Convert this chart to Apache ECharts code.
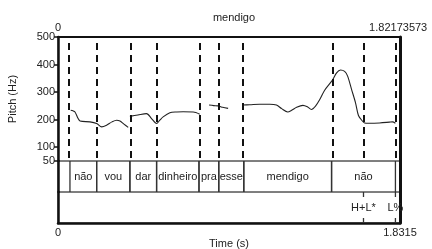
<!DOCTYPE html>
<html>
<head>
<meta charset="utf-8">
<script src="https://cdn.jsdelivr.net/npm/echarts@6/dist/echarts.min.js"></script>
<style>
  html, body { margin: 0; padding: 0; background: #fff; }
  #chart { width: 432px; height: 249px; }
</style>
</head>
<body>
<div id="chart"></div>
<script>
// pitch contour (s, Hz), null = unvoiced gap
var pitchTimes = [0.068, 0.080, 0.091, 0.107, 0.118, 0.171, 0.207, 0.234, 0.260, 0.289, 0.314, 0.332, 0.353, 0.376, 0.380,
  0.385, 0.428, 0.474, 0.501, 0.528, 0.545, 0.563, 0.599, 0.636, 0.670, 0.724, 0.738, 0.759, 0.780,
  0.809, 0.834, 0.857, 0.882, 0.911, 0.950,
  0.988, 1.027, 1.080, 1.134, 1.170, 1.198, 1.230, 1.251, 1.278, 1.312, 1.337, 1.357, 1.380, 1.401, 1.428, 1.469,
  1.492, 1.513, 1.535, 1.551, 1.572, 1.593, 1.609, 1.629, 1.642, 1.663, 1.722, 1.775, 1.791, 1.807];
var pitchValues = [234, 232, 228, 205, 195, 192, 186, 174, 180, 192, 198, 195, 184, 172, null,
  212, 217, 222, 204, 186, 198, 210, 225, 228, 229, 228, 226, 220, null,
  253, 251, 250, 245, 241, null,
  253, 254, 256, 256, 253, 240, 228, 234, 245, 252, 246, 237, 250, 272, 307, 343,
  370, 380, 375, 358, 310, 262, 215, 196, 188, 187, 188, 191, 192, 187];

// word tier
var words = ['não', 'vou', 'dar', 'dinheiro', 'pra', 'esse', 'mendigo', 'não'];
var wordStarts = [0.064, 0.207, 0.385, 0.528, 0.755, 0.861, 0.995, 1.465];
var wordEnds = [0.207, 0.385, 0.528, 0.755, 0.861, 0.995, 1.465, 1.807];

// tone tier
var tones = ['H+L*', 'L%'];
var toneTimes = [1.636, 1.807];

var pitchTicks = [50, 100, 200, 300, 400, 500];
var totalDur = 1.8315;
var pitchDur = 1.82173573;

var font = '"Liberation Sans", Arial, sans-serif';
var ink = '#222';

var myChart = echarts.init(document.getElementById('chart'));

var dashTimes = wordStarts.concat([wordEnds[wordEnds.length - 1]], [toneTimes[0]]);

var option = {
  animation: false,
  textStyle: { fontFamily: font },
  title: {
    text: 'mendigo',
    left: 229, top: 7, textAlign: 'center',
    textStyle: { fontSize: 11, fontWeight: 'normal', color: ink, fontFamily: font }
  },
  grid: [
    { left: 58, top: 37, width: 342, height: 124, show: true, borderColor: '#555', borderWidth: 1, outerBoundsMode: 'none' },
    { left: 58, top: 161, width: 342, height: 31, show: true, borderColor: '#555', borderWidth: 1, outerBoundsMode: 'none' },
    { left: 58, top: 192, width: 342, height: 31, show: true, borderColor: '#555', borderWidth: 1, outerBoundsMode: 'none' }
  ],
  xAxis: [
    {
      gridIndex: 0, type: 'value', min: 0, max: totalDur, position: 'top',
      axisLine: { show: true, lineStyle: { color: '#111', width: 2 } },
      axisTick: { show: false }, splitLine: { show: false },
      axisLabel: {
        customValues: [0, pitchDur], margin: 4, fontSize: 11, color: ink,
        formatter: function (v) { return v === 0 ? '0' : '1.82173573'; }
      }
    },
    { gridIndex: 1, type: 'value', min: 0, max: totalDur, show: false },
    {
      gridIndex: 2, type: 'value', min: 0, max: totalDur, position: 'bottom',
      name: 'Time (s)', nameLocation: 'middle', nameGap: 14,
      nameTextStyle: { fontSize: 11, color: ink },
      axisLine: { show: true, lineStyle: { color: '#111', width: 2.5 } },
      axisTick: { show: false }, splitLine: { show: false },
      axisLabel: {
        customValues: [0, totalDur], margin: 4, fontSize: 11, color: ink,
        formatter: function (v) { return v === 0 ? '0' : '1.8315'; }
      }
    }
  ],
  yAxis: [
    {
      gridIndex: 0, type: 'value', min: 50, max: 500,
      name: 'Pitch (Hz)', nameLocation: 'middle', nameGap: 40, nameRotate: 90,
      nameTextStyle: { fontSize: 11, color: ink },
      axisLine: { show: true, lineStyle: { color: '#111', width: 2.5 } },
      axisTick: { show: true, customValues: pitchTicks, length: 4, lineStyle: { color: '#111', width: 1.5 } },
      axisLabel: { customValues: pitchTicks, margin: 3, fontSize: 11, color: ink },
      splitLine: { show: false }
    },
    { gridIndex: 0, type: 'value', min: 50, max: 500, position: 'right',
      axisLine: { show: true, lineStyle: { color: '#111', width: 3 } },
      axisTick: { show: false }, axisLabel: { show: false }, splitLine: { show: false } },
    { gridIndex: 1, type: 'value', min: 0, max: 1,
      axisLine: { show: true, lineStyle: { color: '#111', width: 2.5 } },
      axisTick: { show: false }, axisLabel: { show: false }, splitLine: { show: false } },
    { gridIndex: 1, type: 'value', min: 0, max: 1, position: 'right',
      axisLine: { show: true, lineStyle: { color: '#111', width: 3 } },
      axisTick: { show: false }, axisLabel: { show: false }, splitLine: { show: false } },
    { gridIndex: 2, type: 'value', min: 0, max: 1,
      axisLine: { show: true, lineStyle: { color: '#111', width: 2.5 } },
      axisTick: { show: false }, axisLabel: { show: false }, splitLine: { show: false } },
    { gridIndex: 2, type: 'value', min: 0, max: 1, position: 'right',
      axisLine: { show: true, lineStyle: { color: '#111', width: 3 } },
      axisTick: { show: false }, axisLabel: { show: false }, splitLine: { show: false } }
  ],
  series: [
    {
      type: 'line', xAxisIndex: 0, yAxisIndex: 0,
      data: pitchTimes.map(function (t, i) { return [t, pitchValues[i]]; }),
      showSymbol: false, smooth: 0.3, connectNulls: false,
      lineStyle: { color: '#222', width: 1.1 },
      markLine: {
        silent: true, symbol: 'none', label: { show: false },
        lineStyle: { color: '#111', type: [7, 5], dashOffset: -3, width: 2 },
        data: dashTimes.map(function (t) { return { xAxis: t }; })
      }
    },
    {
      type: 'custom', xAxisIndex: 1, yAxisIndex: 2,
      data: wordStarts.map(function (s, i) { return [s, wordEnds[i]]; }),
      renderItem: function (params, api) {
        var cs = params.coordSys;
        var x0 = api.coord([api.value(0), 0])[0];
        var x1 = api.coord([api.value(1), 0])[0];
        var ln = { stroke: '#333', lineWidth: 1.3 };
        return {
          type: 'group', children: [
            { type: 'line', shape: { x1: x0, y1: cs.y, x2: x0, y2: cs.y + cs.height }, style: ln },
            { type: 'line', shape: { x1: x1, y1: cs.y, x2: x1, y2: cs.y + cs.height }, style: ln },
            { type: 'text', style: {
              text: words[params.dataIndex], x: (x0 + x1) / 2, y: cs.y + cs.height / 2,
              align: 'center', verticalAlign: 'middle', font: '11px ' + font, fill: ink } }
          ]
        };
      }
    },
    {
      type: 'custom', xAxisIndex: 2, yAxisIndex: 4,
      data: toneTimes.map(function (t) { return [t]; }),
      renderItem: function (params, api) {
        var cs = params.coordSys;
        var x = api.coord([api.value(0), 0])[0];
        var ln = { stroke: '#333', lineWidth: 1.3 };
        return {
          type: 'group', children: [
            { type: 'line', shape: { x1: x, y1: cs.y, x2: x, y2: cs.y + 5 }, style: ln },
            { type: 'line', shape: { x1: x, y1: cs.y + cs.height - 5, x2: x, y2: cs.y + cs.height }, style: ln },
            { type: 'text', style: {
              text: tones[params.dataIndex], x: x, y: cs.y + cs.height / 2,
              align: 'center', verticalAlign: 'middle', font: '11px ' + font, fill: ink } }
          ]
        };
      }
    }
  ]
};

myChart.setOption(option);
</script>
</body>
</html>
